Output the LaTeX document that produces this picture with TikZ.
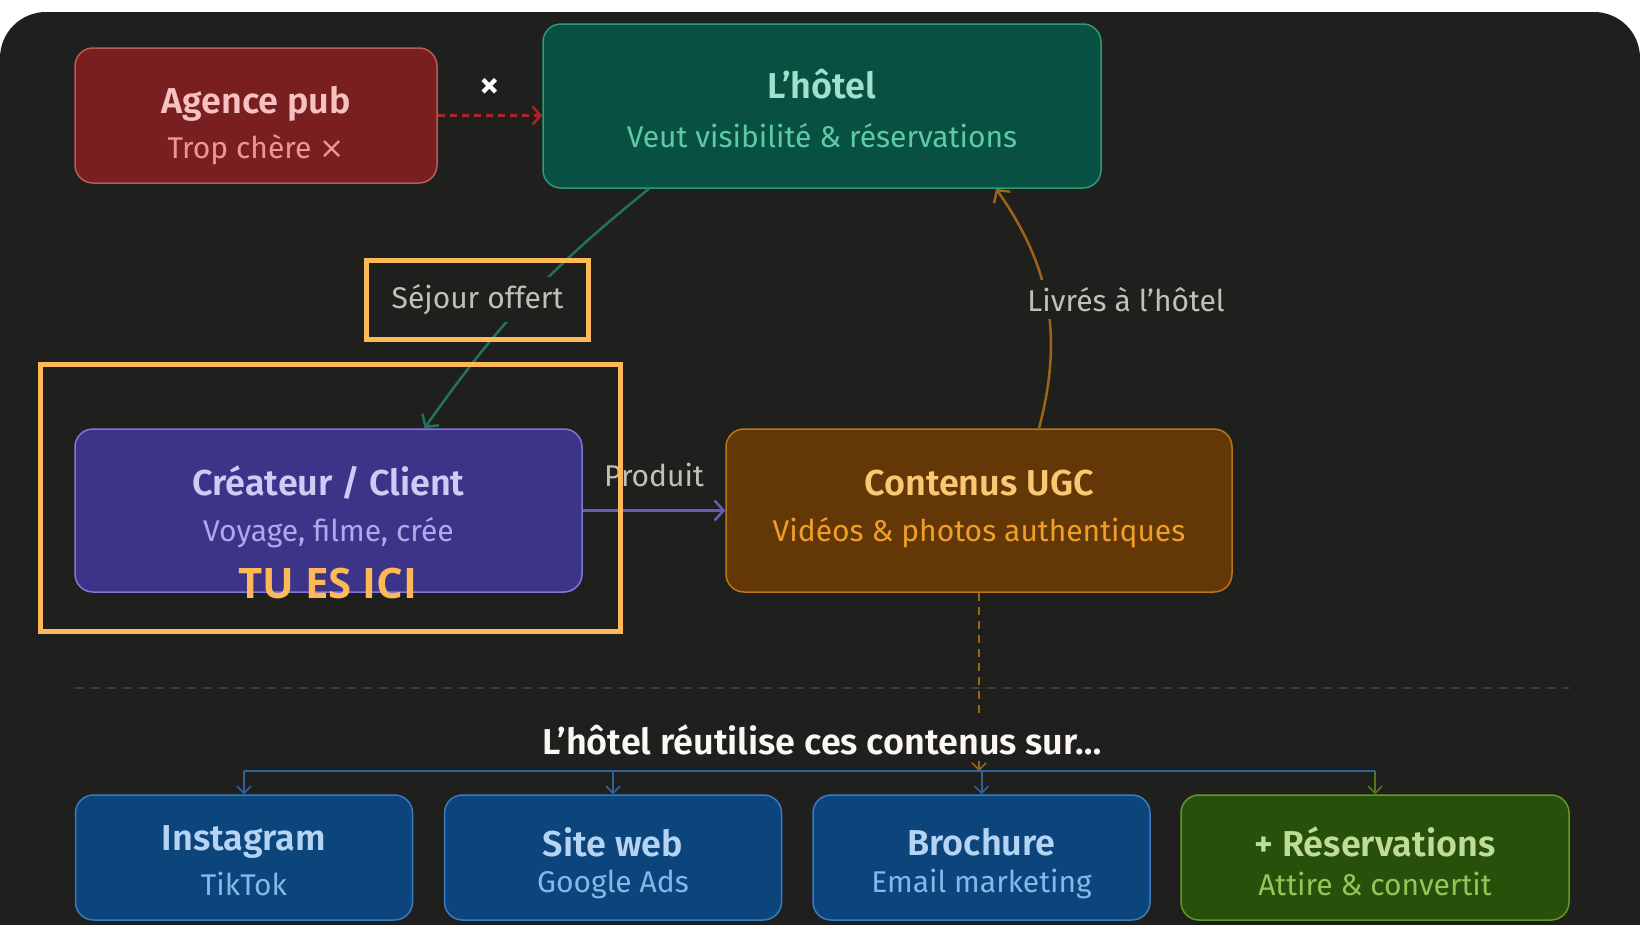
\documentclass[tikz,border=0pt]{standalone}
\usepackage{fontspec}
\setmainfont{Fira Sans}[BoldFont={Fira Sans SemiBold}]
\newfontfamily\herefont{Open Sans}
\newfontfamily\symfont{DejaVu Sans}
\usepackage{tikz}
\usetikzlibrary{arrows.meta,positioning}
\definecolor{bgx}{HTML}{1F1F1E}
\definecolor{pubfill}{HTML}{791F1F}
\definecolor{publine}{HTML}{B85A5A}
\definecolor{pubtxt}{HTML}{F7C1C1}
\definecolor{pubsub}{HTML}{F09595}
\definecolor{hotfill}{HTML}{085041}
\definecolor{hotline}{HTML}{2E9A78}
\definecolor{hottxt}{HTML}{9FE1CB}
\definecolor{hotsub}{HTML}{5DCAA5}
\definecolor{creafill}{HTML}{3C3489}
\definecolor{crealine}{HTML}{7F77DD}
\definecolor{creatxt}{HTML}{CECBF6}
\definecolor{creasub}{HTML}{AFA9EC}
\definecolor{ugcfill}{HTML}{633806}
\definecolor{ugcline}{HTML}{BA7517}
\definecolor{ugctxt}{HTML}{FAC775}
\definecolor{ugcsub}{HTML}{EF9F27}
\definecolor{bluefill}{HTML}{0C447C}
\definecolor{blueline}{HTML}{3A7BC0}
\definecolor{bluetxt}{HTML}{B5D4F4}
\definecolor{bluesub}{HTML}{85B7EB}
\definecolor{grnfill}{HTML}{27500A}
\definecolor{grnline}{HTML}{639922}
\definecolor{grntxt}{HTML}{C0DD97}
\definecolor{grnsub}{HTML}{97C459}
\definecolor{hlx}{HTML}{FDB858}
\definecolor{lblgray}{HTML}{C2C0B6}
\definecolor{sepx}{HTML}{3D3D3B}
\tikzset{
  card/.style={rounded corners=18pt,line width=1.5pt,inner sep=0pt},
  ttl/.style={font=\fontsize{36}{40}\selectfont\bfseries,inner sep=0pt},
  sub/.style={font=\fontsize{30}{34}\selectfont,inner sep=0pt},
  lbl/.style={font=\fontsize{30}{34}\selectfont,text=lblgray,inner sep=7pt},
  ar/.style={-{Straight Barb[length=9pt,width=20pt,line width=2.5pt]},line width=2.5pt},
  busar/.style={-{Straight Barb[length=7pt,width=14pt,line width=1.6pt]},line width=2pt},
  hl/.style={draw=hlx,line width=5pt,inner sep=0pt}
}
\begin{document}
\begin{tikzpicture}[x=1pt,y=-1pt]
\useasboundingbox (0,0) rectangle (1640,924);
\fill[white] (0,0) rectangle (1640,924);
\fill[bgx,rounded corners=46pt] (0,12) rectangle (1640,975);
% top row
\node[card,fill=pubfill,draw=publine,minimum width=362pt,minimum height=135pt] (pub) at (256,115.5) {};
\node[ttl,text=pubtxt] (pubt) at (256,104) {Agence pub};
\node[sub,text=pubsub] (pubs) at (256,150) {Trop chère {\symfont ×}};
\node[card,fill=hotfill,draw=hotline,minimum width=558pt,minimum height=164pt] (hotel) at (822,106) {};
\node[ttl,text=hottxt] (hotelt) at (822,84) {L’hôtel};
\node[sub,text=hotsub] (hotels) at (822,136) {Veut visibilité \& réservations};
% middle row
\node[card,fill=creafill,draw=crealine,minimum width=507pt,minimum height=163pt] (crea) at (328.5,510.5) {};
\node[ttl,text=creatxt] (creat) at (328.5,483) {Créateur / Client};
\node[sub,text=creasub] (creas) at (328.5,533) {Voyage, filme, crée};
\node[card,fill=ugcfill,draw=ugcline,minimum width=506pt,minimum height=163pt] (ugc) at (979,510.5) {};
\node[ttl,text=ugctxt] (ugct) at (979,483) {Contenus UGC};
\node[sub,text=ugcsub] (ugcs) at (979,533) {Vidéos \& photos authentiques};
% arrows
\draw[dashed,dash pattern=on 7pt off 5pt,line width=2.5pt,-{Straight Barb[length=8pt,width=18pt,line width=2.5pt]},color=red!60!black!85] (pub.east) -- (pub.east -| hotel.west)
  node[midway,above=16pt,text=white,font=\fontsize{40}{40}\selectfont\bfseries,inner sep=0pt] (nope) {×};
\draw[ar,color=hotline!75!black] ([xshift=-173pt]hotel.south) to[bend right=8] ([xshift=96pt]crea.north);
\node[lbl,fill=bgx] (sejour) at (477.5,299.5) {Séjour offert};
\node[hl,minimum width=222pt,minimum height=79pt] (sejourhl) at (477.5,299.5) {};
\draw[ar,color=ugcline!85!black] ([xshift=60pt]ugc.north) to[bend right=25] ([xshift=174pt]hotel.south);
\node[lbl,fill=bgx] (livres) at (1126,299.5) {Livrés à l’hôtel};
\draw[ar,color=crealine!80!black] (crea.east) -- (ugc.west) node[midway,above=22pt,lbl,inner sep=0pt] (produit) {Produit};
\node[hl,minimum width=580pt,minimum height=267pt] (herehl) at (330.5,498) {};
\node[text=hlx,font=\herefont\fontsize{42}{46}\selectfont\bfseries,inner sep=0pt] (here) at (328,583) {TU ES ICI};
% bottom part
\draw[sepx,line width=1.5pt,dash pattern=on 9pt off 7pt] (75,688) -- (1569,688);
\coordinate (bus) at (0,771);
\foreach \n/\x/\t/\s in {insta/244/Instagram/TikTok,web/613/Site web/Google Ads,broch/981.5/Brochure/Email marketing}{
  \node[card,fill=bluefill,draw=blueline,minimum width=337pt,minimum height=125pt] (\n) at (\x,857.5) {};
  \node[ttl,text=bluetxt] (\n t) at (\x,842) {\t};
  \node[sub,text=bluesub] (\n s) at (\x,884) {\s};
}
\node[card,fill=grnfill,draw=grnline,minimum width=388pt,minimum height=125pt] (resa) at (1375,857.5) {};
\node[ttl,text=grntxt] (resat) at (1375,842) {+ Réservations};
\node[sub,text=grnsub] (resas) at (1375,884) {Attire \& convertit};
\draw[busar,color=ugcline!85!black,dashed,dash pattern=on 8pt off 6pt] (ugc.south) -- (ugc.south |- bus);
\node[font=\fontsize{36}{40}\selectfont\bfseries,text=white!94!brown,fill=bgx,inner sep=6pt] (reuse) at (822,740) {L’hôtel réutilise ces contenus sur…};
\draw[line width=2pt,color=blueline!80!black] (insta |- bus) -- (resa |- bus);
\foreach \n in {insta,web,broch}
  \draw[busar,color=blueline!80!black] (\n |- bus) -- (\n.north);
\draw[busar,color=grnline!80!black] (resa |- bus) -- (resa.north);
\end{tikzpicture}
\end{document}
